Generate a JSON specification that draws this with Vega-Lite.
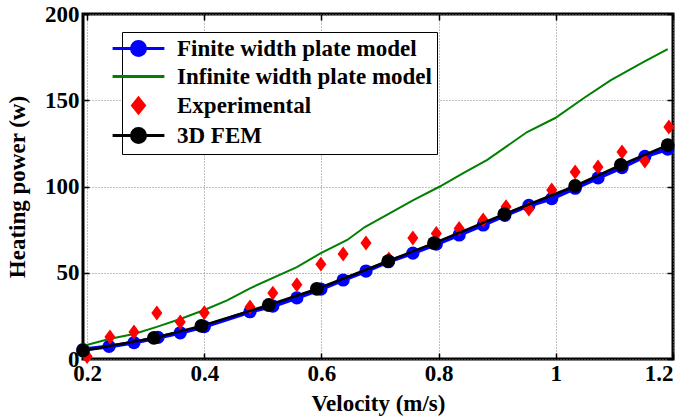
{
  "$schema": "https://vega.github.io/schema/vega-lite/v6.json",
  "width": 590,
  "height": 345,
  "autosize": {"type": "none"},
  "padding": {"left": 83, "top": 14, "right": 16, "bottom": 61},
  "background": "white",
  "config": {
    "font": "Liberation Serif",
    "view": {"stroke": "black", "strokeWidth": 3},
    "axis": {
      "labelFont": "Liberation Serif",
      "labelFontWeight": "bold",
      "labelFontSize": 23,
      "labelColor": "black",
      "titleFont": "Liberation Serif",
      "titleFontWeight": "bold",
      "titleFontSize": 23,
      "titleColor": "black",
      "domain": false,
      "tickColor": "black",
      "tickWidth": 1.5,
      "tickSize": -6,
      "gridColor": "#808080",
      "gridDash": [1, 2],
      "gridWidth": 1
    }
  },
  "datasets": {
    "d": [
      {"series": "Finite width plate model", "v": 0.193, "p": 5.5},
      {"series": "Finite width plate model", "v": 0.2375, "p": 7.3},
      {"series": "Finite width plate model", "v": 0.28, "p": 9.5},
      {"series": "Finite width plate model", "v": 0.321, "p": 12.5},
      {"series": "Finite width plate model", "v": 0.359, "p": 15.2},
      {"series": "Finite width plate model", "v": 0.4, "p": 18.8},
      {"series": "Finite width plate model", "v": 0.478, "p": 27.4},
      {"series": "Finite width plate model", "v": 0.517, "p": 30.7},
      {"series": "Finite width plate model", "v": 0.558, "p": 35.4},
      {"series": "Finite width plate model", "v": 0.599, "p": 40.5},
      {"series": "Finite width plate model", "v": 0.637, "p": 45.8},
      {"series": "Finite width plate model", "v": 0.676, "p": 51.0},
      {"series": "Finite width plate model", "v": 0.714, "p": 56.4},
      {"series": "Finite width plate model", "v": 0.756, "p": 61.4},
      {"series": "Finite width plate model", "v": 0.796, "p": 66.6},
      {"series": "Finite width plate model", "v": 0.835, "p": 71.9},
      {"series": "Finite width plate model", "v": 0.876, "p": 77.7},
      {"series": "Finite width plate model", "v": 0.913, "p": 83.3},
      {"series": "Finite width plate model", "v": 0.954, "p": 89.0},
      {"series": "Finite width plate model", "v": 0.993, "p": 93.0},
      {"series": "Finite width plate model", "v": 1.033, "p": 99.0},
      {"series": "Finite width plate model", "v": 1.072, "p": 105.0},
      {"series": "Finite width plate model", "v": 1.113, "p": 111.0},
      {"series": "Finite width plate model", "v": 1.152, "p": 117.5},
      {"series": "Finite width plate model", "v": 1.191, "p": 121.7},
      {"series": "Infinite width plate model", "v": 0.193, "p": 7.5},
      {"series": "Infinite width plate model", "v": 0.2375, "p": 11.6},
      {"series": "Infinite width plate model", "v": 0.28, "p": 14.5},
      {"series": "Infinite width plate model", "v": 0.319, "p": 18.6},
      {"series": "Infinite width plate model", "v": 0.359, "p": 23.2},
      {"series": "Infinite width plate model", "v": 0.4, "p": 28.4},
      {"series": "Infinite width plate model", "v": 0.439, "p": 34.0},
      {"series": "Infinite width plate model", "v": 0.478, "p": 41.0},
      {"series": "Infinite width plate model", "v": 0.558, "p": 53.3},
      {"series": "Infinite width plate model", "v": 0.599, "p": 61.4},
      {"series": "Infinite width plate model", "v": 0.644, "p": 69.0},
      {"series": "Infinite width plate model", "v": 0.674, "p": 76.5},
      {"series": "Infinite width plate model", "v": 0.717, "p": 84.6},
      {"series": "Infinite width plate model", "v": 0.756, "p": 92.0},
      {"series": "Infinite width plate model", "v": 0.802, "p": 100.0},
      {"series": "Infinite width plate model", "v": 0.842, "p": 107.8},
      {"series": "Infinite width plate model", "v": 0.883, "p": 115.4},
      {"series": "Infinite width plate model", "v": 0.951, "p": 131.6},
      {"series": "Infinite width plate model", "v": 0.999, "p": 139.7},
      {"series": "Infinite width plate model", "v": 1.048, "p": 151.3},
      {"series": "Infinite width plate model", "v": 1.094, "p": 161.7},
      {"series": "Infinite width plate model", "v": 1.15, "p": 172.2},
      {"series": "Infinite width plate model", "v": 1.191, "p": 179.7},
      {"series": "Experimental", "v": 0.2, "p": 1.5},
      {"series": "Experimental", "v": 0.239, "p": 12.7},
      {"series": "Experimental", "v": 0.28, "p": 15.7},
      {"series": "Experimental", "v": 0.319, "p": 26.7},
      {"series": "Experimental", "v": 0.359, "p": 21.5},
      {"series": "Experimental", "v": 0.4, "p": 26.8},
      {"series": "Experimental", "v": 0.478, "p": 30.2},
      {"series": "Experimental", "v": 0.517, "p": 38.2},
      {"series": "Experimental", "v": 0.558, "p": 43.0},
      {"series": "Experimental", "v": 0.599, "p": 55.0},
      {"series": "Experimental", "v": 0.637, "p": 60.9},
      {"series": "Experimental", "v": 0.676, "p": 67.2},
      {"series": "Experimental", "v": 0.715, "p": 58.0},
      {"series": "Experimental", "v": 0.756, "p": 70.1},
      {"series": "Experimental", "v": 0.796, "p": 72.8},
      {"series": "Experimental", "v": 0.835, "p": 75.6},
      {"series": "Experimental", "v": 0.876, "p": 80.6},
      {"series": "Experimental", "v": 0.915, "p": 88.3},
      {"series": "Experimental", "v": 0.954, "p": 87.0},
      {"series": "Experimental", "v": 0.993, "p": 98.0},
      {"series": "Experimental", "v": 1.033, "p": 108.4},
      {"series": "Experimental", "v": 1.072, "p": 111.3},
      {"series": "Experimental", "v": 1.113, "p": 120.0},
      {"series": "Experimental", "v": 1.152, "p": 114.8},
      {"series": "Experimental", "v": 1.193, "p": 134.5},
      {"series": "3D FEM", "v": 0.193, "p": 4.8},
      {"series": "3D FEM", "v": 0.314, "p": 12.2},
      {"series": "3D FEM", "v": 0.395, "p": 19.2},
      {"series": "3D FEM", "v": 0.51, "p": 31.3},
      {"series": "3D FEM", "v": 0.592, "p": 40.6},
      {"series": "3D FEM", "v": 0.714, "p": 56.8},
      {"series": "3D FEM", "v": 0.792, "p": 67.2},
      {"series": "3D FEM", "v": 0.912, "p": 84.0},
      {"series": "3D FEM", "v": 1.033, "p": 100.3},
      {"series": "3D FEM", "v": 1.111, "p": 112.5},
      {"series": "3D FEM", "v": 1.191, "p": 124.0}
    ]
  },
  "data": {"name": "d"},
  "resolve": {"axis": {"x": "independent", "y": "independent"}},
  "layer": [
    {
      "transform": [{"filter": "datum.series === 'Finite width plate model'"}],
      "mark": {"type": "line", "color": "#0000ff", "strokeWidth": 4,
               "point": {"filled": true, "size": 175, "color": "#0000ff", "opacity": 1}},
      "encoding": {
        "x": {"field": "v", "type": "quantitative",
              "scale": {"domain": [0.193, 1.2], "nice": false, "zero": false},
              "axis": {"orient": "bottom", "values": [0.2, 0.4, 0.6, 0.8, 1, 1.2], "format": "~g",
                       "grid": true, "labelPadding": 9, "title": "Velocity (m/s)", "titlePadding": 7}},
        "y": {"field": "p", "type": "quantitative",
              "scale": {"domain": [0, 200], "nice": false},
              "axis": {"orient": "left", "values": [0, 50, 100, 150, 200],
                       "grid": true, "labelPadding": 10, "title": "Heating power (w)", "titlePadding": 15}}
      }
    },
    {
      "transform": [{"filter": "datum.series === 'Infinite width plate model'"}],
      "mark": {"type": "line", "color": "#008000", "strokeWidth": 2},
      "encoding": {
        "x": {"field": "v", "type": "quantitative", "axis": null},
        "y": {"field": "p", "type": "quantitative", "axis": null}
      }
    },
    {
      "transform": [{"filter": "datum.series === 'Experimental'"}],
      "mark": {"type": "point", "shape": "M0,-1.15L0.85,0L0,1.15L-0.85,0Z", "filled": true,
               "color": "#ff0000", "size": 169, "opacity": 1},
      "encoding": {
        "x": {"field": "v", "type": "quantitative", "axis": null},
        "y": {"field": "p", "type": "quantitative", "axis": null}
      }
    },
    {
      "transform": [{"filter": "datum.series === '3D FEM'"}],
      "mark": {"type": "line", "color": "#000000", "strokeWidth": 2.5,
               "point": {"filled": true, "size": 190, "color": "#000000", "opacity": 1}},
      "encoding": {
        "x": {"field": "v", "type": "quantitative", "axis": null},
        "y": {"field": "p", "type": "quantitative", "axis": null}
      }
    },
    {
      "transform": [{"filter": "false"}],
      "mark": {"type": "point", "filled": true, "size": 196, "opacity": 1},
      "encoding": {
        "x": {"field": "v", "type": "quantitative",
              "axis": {"orient": "top", "values": [0.2, 0.4, 0.6, 0.8, 1, 1.2], "labels": false, "title": null, "grid": false}},
        "y": {"field": "p", "type": "quantitative",
              "axis": {"orient": "right", "values": [0, 50, 100, 150, 200], "labels": false, "title": null, "grid": false}},
        "fill": {"field": "series", "type": "nominal",
                 "scale": {"domain": ["Finite width plate model", "Infinite width plate model", "Experimental", "3D FEM"],
                           "range": ["#0000ff", "#008000", "#ff0000", "#000000"]},
                 "legend": {"orient": "none", "legendX": 39, "legendY": 18, "title": null,
                            "padding": 5, "strokeColor": "black", "fillColor": "white",
                            "symbolSize": 196, "symbolStrokeWidth": 3, "symbolOpacity": 1,
                            "labelFont": "Liberation Serif", "labelFontWeight": "bold", "labelFontSize": 23,
                            "labelColor": "black", "labelOffset": 27, "labelLimit": 400, "rowPadding": 3,
                            "labelExpr": "datum.label + ' '"}},
        "stroke": {"field": "series", "type": "nominal",
                   "scale": {"domain": ["Finite width plate model", "Infinite width plate model", "Experimental", "3D FEM"],
                             "range": ["#0000ff", "#008000", "#ff0000", "#000000"]}},
        "shape": {"field": "series", "type": "nominal",
                  "scale": {"domain": ["Finite width plate model", "Infinite width plate model", "Experimental", "3D FEM"],
                            "range": ["M-4.55,0M-3.7,0L3.7,0M-1,0A1,1,0,1,1,1,0A1,1,0,1,1,-1,0Z",
                                      "M-4.55,0M-3.7,0L3.7,0",
                                      "M-4.55,0M0,-1.05L0.85,0L0,1.05L-0.85,0Z",
                                      "M-4.55,0M-3.7,0L3.7,0M-1,0A1,1,0,1,1,1,0A1,1,0,1,1,-1,0Z"]}}
      }
    }
  ]
}
